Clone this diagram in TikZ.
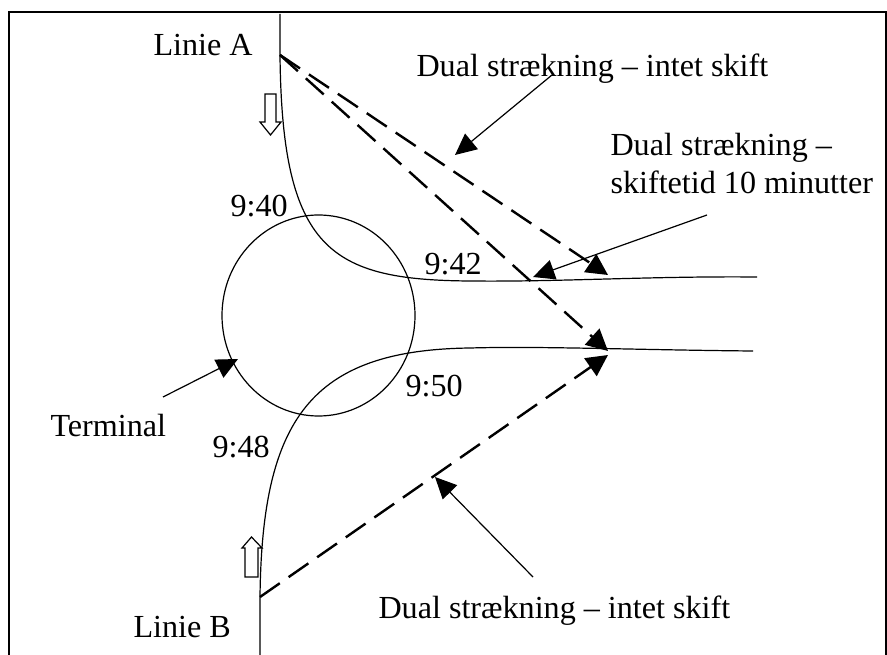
\documentclass[tikz,border=0pt]{standalone}
\usepackage{fontspec}
\setmainfont{Liberation Serif}
\usetikzlibrary{arrows.meta}
\tikzset{
  route/.style={black, line width=0.45pt},
  dual/.style={black, line width=0.9pt, dash pattern=on 9pt off 4pt, -{Triangle[length=8pt,width=8pt]}},
  callout/.style={black, line width=0.45pt, -{Triangle[length=8pt,width=7.5pt]}},
  txt/.style={inner sep=0pt, anchor=base west, font=\fontsize{12}{14.2}\selectfont}
}

\begin{document}
\begin{tikzpicture}[x=0.01312cm, y=-0.01312cm]
\useasboundingbox (0,0) rectangle (887,655);
% frame
\draw[black, line width=0.6pt] (9,655) -- (9,12) -- (886,12) -- (886,655);

% the two lines and the terminal
\coordinate (A) at (280,55);
\coordinate (B) at (260,597);
\draw[route] (280,14) -- (A) .. controls (282,250) and (330,280) .. (470,281)
  .. controls (560,282) and (650,276) .. (757,277);
\draw[route] (260,655) -- (B) .. controls (262,420) and (310,350) .. (470,348)
  .. controls (540,346) and (640,350) .. (753,351);
\draw[route] (318.5,315.5) ellipse (96.5 and 100.5);

% direction arrows
\draw[route] (265,94) -- (276,94) -- (276,122) -- (281,122) -- (270.5,135) -- (260,122) -- (265,122) -- cycle;
\draw[route] (245,577) -- (258,577) -- (258,548) -- (262,548) -- (251.5,537) -- (242,548) -- (245,548) -- cycle;

% dual lines
\coordinate (tip1) at (608,275);
\coordinate (tip2) at (608,351);
\coordinate (tip3) at (608,355);
\draw[dual] (A) -- (tip1);
\draw[dual] (A) -- (tip2);
\draw[dual] (B) -- (tip3);

% labels
\node[txt] (linieA) at (153,56) {Linie A};
\node[txt] (linieB) at (133,637) {Linie B};
\node[txt] (term) at (50,437) {Terminal};
\node[txt] (t940) at (230,217) {9:40};
\node[txt] (t942) at (424,275) {9:42};
\node[txt] (t950) at (405,397) {9:50};
\node[txt] (t948) at (212,457) {9:48};
\node[txt] (dualtop) at (416,77) {Dual strækning – intet skift};
\node[txt] (dualbot) at (378,618) {Dual strækning – intet skift};
\node[txt, anchor=north west, align=left] (skift) at (610,133) {Dual strækning –\\skiftetid 10 minutter};

% callouts
\coordinate (c1) at (552,75);
\coordinate (c2) at (707,215);
\coordinate (c3) at (163,397);
\coordinate (c4) at (533,577);
\draw[callout] (c1) -- (455,155);
\draw[callout] (c2) -- (533,277);
\draw[callout] (c3) -- (238,359);
\draw[callout] (c4) -- (435,477);
\end{tikzpicture}
\end{document}
